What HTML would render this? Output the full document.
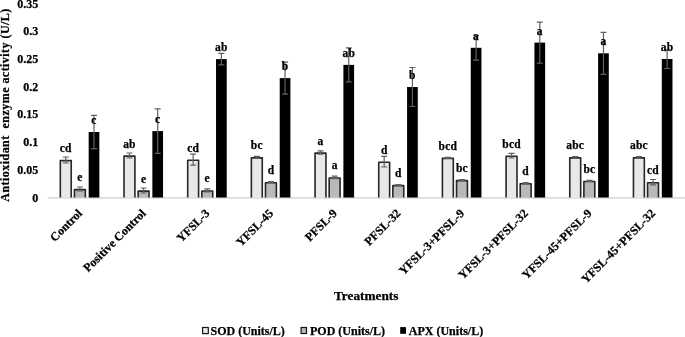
<!DOCTYPE html>
<html><head><meta charset="utf-8"><style>
html,body{margin:0;padding:0;background:#fff;width:685px;height:337px;overflow:hidden}
svg{display:block;filter:grayscale(1)}
text{font-family:"Liberation Serif",serif;font-weight:bold;fill:#000;stroke:#000;stroke-width:0.25px}
.t11{font-size:11px}
.dl{font-size:11.5px;letter-spacing:0.2px}
.t12{font-size:12px}
.t13{font-size:13.3px}
</style></head><body>
<svg width="685" height="337" viewBox="0 0 685 337">
<line x1="47.8" y1="197.9" x2="685" y2="197.9" stroke="#dcdcdc" stroke-width="1.6"/>
<text x="38.3" y="201.8" text-anchor="end" class="t12">0</text>
<text x="38.3" y="174.0" text-anchor="end" class="t12">0.05</text>
<text x="38.3" y="146.2" text-anchor="end" class="t12">0.1</text>
<text x="38.3" y="118.4" text-anchor="end" class="t12">0.15</text>
<text x="38.3" y="90.6" text-anchor="end" class="t12">0.2</text>
<text x="38.3" y="62.8" text-anchor="end" class="t12">0.25</text>
<text x="38.3" y="35.0" text-anchor="end" class="t12">0.3</text>
<text x="38.3" y="7.8" text-anchor="end" class="t12">0.35</text>
<rect x="60.33" y="160.60" width="10.90" height="36.90" fill="#e8e8e8"/>
<path d="M60.33 197.50V160.60H71.23V197.50" fill="none" stroke="#262626" stroke-width="1.6" stroke-linejoin="round"/>
<rect x="74.45" y="189.60" width="10.90" height="7.90" fill="#b9b9b9"/>
<path d="M74.45 197.50V189.60H85.35V197.50" fill="none" stroke="#262626" stroke-width="1.6" stroke-linejoin="round"/>
<rect x="88.67" y="132.00" width="10.7" height="65.50" fill="#000"/>
<rect x="124.01" y="156.10" width="10.90" height="41.40" fill="#e8e8e8"/>
<path d="M124.01 197.50V156.10H134.91V197.50" fill="none" stroke="#262626" stroke-width="1.6" stroke-linejoin="round"/>
<rect x="138.13" y="191.10" width="10.90" height="6.40" fill="#b9b9b9"/>
<path d="M138.13 197.50V191.10H149.03V197.50" fill="none" stroke="#262626" stroke-width="1.6" stroke-linejoin="round"/>
<rect x="152.35" y="131.10" width="10.7" height="66.40" fill="#000"/>
<rect x="187.69" y="160.20" width="10.90" height="37.30" fill="#e8e8e8"/>
<path d="M187.69 197.50V160.20H198.59V197.50" fill="none" stroke="#262626" stroke-width="1.6" stroke-linejoin="round"/>
<rect x="201.81" y="191.00" width="10.90" height="6.50" fill="#b9b9b9"/>
<path d="M201.81 197.50V191.00H212.71V197.50" fill="none" stroke="#262626" stroke-width="1.6" stroke-linejoin="round"/>
<rect x="216.03" y="59.10" width="10.7" height="138.40" fill="#000"/>
<rect x="251.37" y="157.90" width="10.90" height="39.60" fill="#e8e8e8"/>
<path d="M251.37 197.50V157.90H262.27V197.50" fill="none" stroke="#262626" stroke-width="1.6" stroke-linejoin="round"/>
<rect x="265.49" y="182.80" width="10.90" height="14.70" fill="#b9b9b9"/>
<path d="M265.49 197.50V182.80H276.39V197.50" fill="none" stroke="#262626" stroke-width="1.6" stroke-linejoin="round"/>
<rect x="279.71" y="78.10" width="10.7" height="119.40" fill="#000"/>
<rect x="315.05" y="153.10" width="10.90" height="44.40" fill="#e8e8e8"/>
<path d="M315.05 197.50V153.10H325.95V197.50" fill="none" stroke="#262626" stroke-width="1.6" stroke-linejoin="round"/>
<rect x="329.17" y="178.00" width="10.90" height="19.50" fill="#b9b9b9"/>
<path d="M329.17 197.50V178.00H340.07V197.50" fill="none" stroke="#262626" stroke-width="1.6" stroke-linejoin="round"/>
<rect x="343.39" y="64.90" width="10.7" height="132.60" fill="#000"/>
<rect x="378.73" y="162.30" width="10.90" height="35.20" fill="#e8e8e8"/>
<path d="M378.73 197.50V162.30H389.63V197.50" fill="none" stroke="#262626" stroke-width="1.6" stroke-linejoin="round"/>
<rect x="392.85" y="185.60" width="10.90" height="11.90" fill="#b9b9b9"/>
<path d="M392.85 197.50V185.60H403.75V197.50" fill="none" stroke="#262626" stroke-width="1.6" stroke-linejoin="round"/>
<rect x="407.07" y="87.00" width="10.7" height="110.50" fill="#000"/>
<rect x="442.41" y="158.40" width="10.90" height="39.10" fill="#e8e8e8"/>
<path d="M442.41 197.50V158.40H453.31V197.50" fill="none" stroke="#262626" stroke-width="1.6" stroke-linejoin="round"/>
<rect x="456.53" y="180.60" width="10.90" height="16.90" fill="#b9b9b9"/>
<path d="M456.53 197.50V180.60H467.43V197.50" fill="none" stroke="#262626" stroke-width="1.6" stroke-linejoin="round"/>
<rect x="470.75" y="47.80" width="10.7" height="149.70" fill="#000"/>
<rect x="506.09" y="156.30" width="10.90" height="41.20" fill="#e8e8e8"/>
<path d="M506.09 197.50V156.30H516.99V197.50" fill="none" stroke="#262626" stroke-width="1.6" stroke-linejoin="round"/>
<rect x="520.21" y="183.80" width="10.90" height="13.70" fill="#b9b9b9"/>
<path d="M520.21 197.50V183.80H531.11V197.50" fill="none" stroke="#262626" stroke-width="1.6" stroke-linejoin="round"/>
<rect x="534.43" y="42.60" width="10.7" height="154.90" fill="#000"/>
<rect x="569.77" y="157.90" width="10.90" height="39.60" fill="#e8e8e8"/>
<path d="M569.77 197.50V157.90H580.67V197.50" fill="none" stroke="#262626" stroke-width="1.6" stroke-linejoin="round"/>
<rect x="583.89" y="181.50" width="10.90" height="16.00" fill="#b9b9b9"/>
<path d="M583.89 197.50V181.50H594.79V197.50" fill="none" stroke="#262626" stroke-width="1.6" stroke-linejoin="round"/>
<rect x="598.11" y="53.30" width="10.7" height="144.20" fill="#000"/>
<rect x="633.45" y="157.90" width="10.90" height="39.60" fill="#e8e8e8"/>
<path d="M633.45 197.50V157.90H644.35V197.50" fill="none" stroke="#262626" stroke-width="1.6" stroke-linejoin="round"/>
<rect x="647.57" y="182.80" width="10.90" height="14.70" fill="#b9b9b9"/>
<path d="M647.57 197.50V182.80H658.47V197.50" fill="none" stroke="#262626" stroke-width="1.6" stroke-linejoin="round"/>
<rect x="661.79" y="59.00" width="10.7" height="138.50" fill="#000"/>
<path d="M65.78 157.00V163.00M62.78 157.00h6M62.78 163.00h6" stroke="#606060" stroke-width="1.2" fill="none"/>
<path d="M79.90 187.00V191.00M76.90 187.00h6M76.90 191.00h6" stroke="#606060" stroke-width="1.2" fill="none"/>
<path d="M94.02 115.30V148.70M91.02 115.30h6M91.02 148.70h6" stroke="#606060" stroke-width="1.2" fill="none"/>
<path d="M129.46 153.00V158.00M126.46 153.00h6M126.46 158.00h6" stroke="#606060" stroke-width="1.2" fill="none"/>
<path d="M143.58 188.00V193.00M140.58 188.00h6M140.58 193.00h6" stroke="#606060" stroke-width="1.2" fill="none"/>
<path d="M157.70 108.80V153.40M154.70 108.80h6M154.70 153.40h6" stroke="#606060" stroke-width="1.2" fill="none"/>
<path d="M193.14 154.10V165.10M190.14 154.10h6M190.14 165.10h6" stroke="#606060" stroke-width="1.2" fill="none"/>
<path d="M207.26 188.80V192.00M204.26 188.80h6M204.26 192.00h6" stroke="#606060" stroke-width="1.2" fill="none"/>
<path d="M221.38 53.30V64.90M218.38 53.30h6M218.38 64.90h6" stroke="#606060" stroke-width="1.2" fill="none"/>
<path d="M256.82 156.30V158.30M253.82 156.30h6M253.82 158.30h6" stroke="#606060" stroke-width="1.2" fill="none"/>
<path d="M270.94 181.70V182.70M267.94 181.70h6M267.94 182.70h6" stroke="#606060" stroke-width="1.2" fill="none"/>
<path d="M285.06 62.10V94.10M282.06 62.10h6M282.06 94.10h6" stroke="#606060" stroke-width="1.2" fill="none"/>
<path d="M320.50 150.80V154.20M317.50 150.80h6M317.50 154.20h6" stroke="#606060" stroke-width="1.2" fill="none"/>
<path d="M334.62 176.10V178.70M331.62 176.10h6M331.62 178.70h6" stroke="#606060" stroke-width="1.2" fill="none"/>
<path d="M348.74 47.90V81.90M345.74 47.90h6M345.74 81.90h6" stroke="#606060" stroke-width="1.2" fill="none"/>
<path d="M384.18 156.40V167.00M381.18 156.40h6M381.18 167.00h6" stroke="#606060" stroke-width="1.2" fill="none"/>
<path d="M398.30 184.50V185.50M395.30 184.50h6M395.30 185.50h6" stroke="#606060" stroke-width="1.2" fill="none"/>
<path d="M412.42 67.50V106.50M409.42 67.50h6M409.42 106.50h6" stroke="#606060" stroke-width="1.2" fill="none"/>
<path d="M447.86 157.30V158.30M444.86 157.30h6M444.86 158.30h6" stroke="#606060" stroke-width="1.2" fill="none"/>
<path d="M461.98 179.50V180.50M458.98 179.50h6M458.98 180.50h6" stroke="#606060" stroke-width="1.2" fill="none"/>
<path d="M476.10 35.50V60.10M473.10 35.50h6M473.10 60.10h6" stroke="#606060" stroke-width="1.2" fill="none"/>
<path d="M511.54 153.40V158.00M508.54 153.40h6M508.54 158.00h6" stroke="#606060" stroke-width="1.2" fill="none"/>
<path d="M525.66 182.70V183.70M522.66 182.70h6M522.66 183.70h6" stroke="#606060" stroke-width="1.2" fill="none"/>
<path d="M539.78 22.10V63.10M536.78 22.10h6M536.78 63.10h6" stroke="#606060" stroke-width="1.2" fill="none"/>
<path d="M575.22 156.50V158.10M572.22 156.50h6M572.22 158.10h6" stroke="#606060" stroke-width="1.2" fill="none"/>
<path d="M589.34 180.40V181.40M586.34 180.40h6M586.34 181.40h6" stroke="#606060" stroke-width="1.2" fill="none"/>
<path d="M603.46 32.30V74.30M600.46 32.30h6M600.46 74.30h6" stroke="#606060" stroke-width="1.2" fill="none"/>
<path d="M638.90 156.50V158.10M635.90 156.50h6M635.90 158.10h6" stroke="#606060" stroke-width="1.2" fill="none"/>
<path d="M653.02 179.50V184.90M650.02 179.50h6M650.02 184.90h6" stroke="#606060" stroke-width="1.2" fill="none"/>
<path d="M667.14 49.50V68.50M664.14 49.50h6M664.14 68.50h6" stroke="#606060" stroke-width="1.2" fill="none"/>
<text x="65.78" y="152.00" text-anchor="middle" class="dl">cd</text>
<text x="79.90" y="181.00" text-anchor="middle" class="dl">e</text>
<text x="94.02" y="124.00" text-anchor="middle" class="dl">c</text>
<text x="129.46" y="147.50" text-anchor="middle" class="dl">ab</text>
<text x="143.58" y="182.50" text-anchor="middle" class="dl">e</text>
<text x="157.70" y="123.10" text-anchor="middle" class="dl">c</text>
<text x="193.14" y="151.60" text-anchor="middle" class="dl">cd</text>
<text x="207.26" y="182.40" text-anchor="middle" class="dl">e</text>
<text x="221.38" y="51.10" text-anchor="middle" class="dl">ab</text>
<text x="256.82" y="149.30" text-anchor="middle" class="dl">bc</text>
<text x="270.94" y="174.20" text-anchor="middle" class="dl">d</text>
<text x="285.06" y="70.10" text-anchor="middle" class="dl">b</text>
<text x="320.50" y="144.50" text-anchor="middle" class="dl">a</text>
<text x="334.62" y="169.40" text-anchor="middle" class="dl">a</text>
<text x="348.74" y="56.90" text-anchor="middle" class="dl">ab</text>
<text x="384.18" y="153.70" text-anchor="middle" class="dl">d</text>
<text x="398.30" y="177.00" text-anchor="middle" class="dl">d</text>
<text x="412.42" y="79.00" text-anchor="middle" class="dl">b</text>
<text x="447.86" y="149.80" text-anchor="middle" class="dl">bcd</text>
<text x="461.98" y="172.00" text-anchor="middle" class="dl">bc</text>
<text x="476.10" y="39.80" text-anchor="middle" class="dl">a</text>
<text x="511.54" y="147.70" text-anchor="middle" class="dl">bcd</text>
<text x="525.66" y="175.20" text-anchor="middle" class="dl">d</text>
<text x="539.78" y="34.60" text-anchor="middle" class="dl">a</text>
<text x="575.22" y="149.30" text-anchor="middle" class="dl">abc</text>
<text x="589.34" y="172.90" text-anchor="middle" class="dl">bc</text>
<text x="603.46" y="45.30" text-anchor="middle" class="dl">a</text>
<text x="638.90" y="149.30" text-anchor="middle" class="dl">abc</text>
<text x="653.02" y="174.20" text-anchor="middle" class="dl">cd</text>
<text x="667.14" y="51.00" text-anchor="middle" class="dl">ab</text>
<text transform="translate(80.00 211.10) rotate(-45)" x="0" y="0" text-anchor="end" dy="0.35em" class="t12">Control</text>
<text transform="translate(143.68 211.10) rotate(-45)" x="0" y="0" text-anchor="end" dy="0.35em" class="t12">Positive Control</text>
<text transform="translate(207.36 211.10) rotate(-45)" x="0" y="0" text-anchor="end" dy="0.35em" class="t12">YFSL-3</text>
<text transform="translate(271.04 211.10) rotate(-45)" x="0" y="0" text-anchor="end" dy="0.35em" class="t12">YFSL-45</text>
<text transform="translate(334.72 211.10) rotate(-45)" x="0" y="0" text-anchor="end" dy="0.35em" class="t12">PFSL-9</text>
<text transform="translate(398.40 211.10) rotate(-45)" x="0" y="0" text-anchor="end" dy="0.35em" class="t12">PFSL-32</text>
<text transform="translate(462.08 211.10) rotate(-45)" x="0" y="0" text-anchor="end" dy="0.35em" class="t12">YFSL-3+PFSL-9</text>
<text transform="translate(525.76 211.10) rotate(-45)" x="0" y="0" text-anchor="end" dy="0.35em" class="t12">YFSL-3+PFSL-32</text>
<text transform="translate(589.44 211.10) rotate(-45)" x="0" y="0" text-anchor="end" dy="0.35em" class="t12">YFSL-45+PFSL-9</text>
<text transform="translate(653.12 211.10) rotate(-45)" x="0" y="0" text-anchor="end" dy="0.35em" class="t12">YFSL-45+PFSL-32</text>
<text transform="translate(9.4 105.2) rotate(-90)" text-anchor="middle" textLength="193" lengthAdjust="spacing" class="t12">Antioxidant&#160; enzyme activity (U/L)</text>
<text x="366.2" y="299.5" text-anchor="middle" class="t13">Treatments</text>
<rect x="202.6" y="327.5" width="5.7" height="6.1" fill="#e8e8e8" stroke="#141414" stroke-width="1.2"/>
<text x="210.5" y="335.1" class="t12">SOD (Units/L)</text>
<rect x="301.1" y="327.5" width="5.4" height="6.0" fill="#b9b9b9" stroke="#141414" stroke-width="1.2"/>
<text x="310.0" y="335.1" class="t12">POD (Units/L)</text>
<rect x="400.2" y="327.1" width="5.8" height="6.7" fill="#000"/>
<text x="408.8" y="335.1" class="t12">APX (Units/L)</text>
</svg>
</body></html>
